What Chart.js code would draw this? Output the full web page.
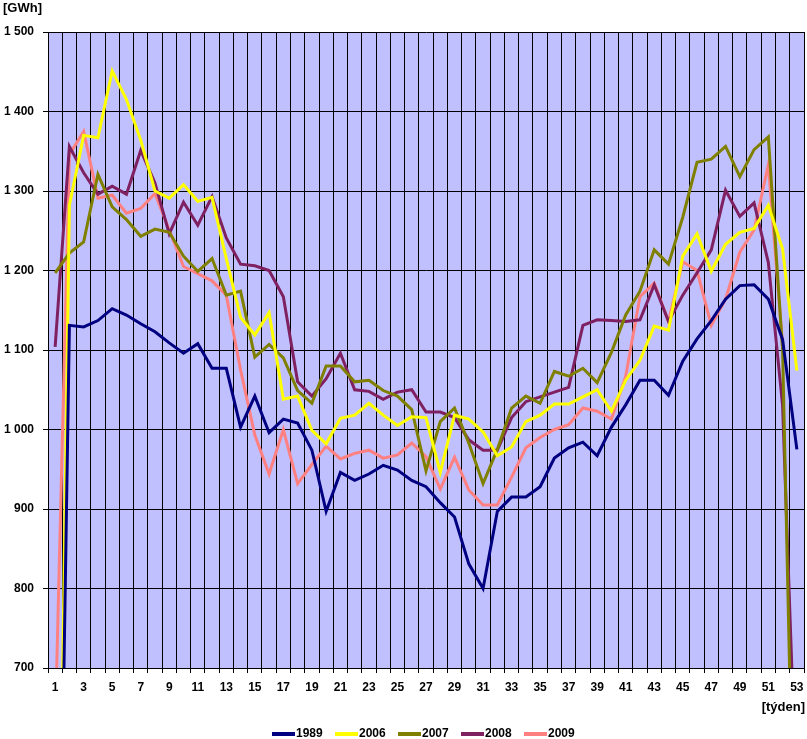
<!DOCTYPE html>
<html>
<head>
<meta charset="utf-8">
<script src="https://cdn.jsdelivr.net/npm/chart.js"></script>
<style>
  body { margin: 0; background: #fff; }
</style>
</head>
<body>
<canvas id="chart" width="807" height="739"></canvas>
<script>
var weeks = ['1','2','3','4','5','6','7','8','9','10','11','12','13','14','15','16','17','18','19','20',
  '21','22','23','24','25','26','27','28','29','30','31','32','33','34','35','36','37','38','39','40',
  '41','42','43','44','45','46','47','48','49','50','51','52','53'];

var yTicks = [700, 800, 900, 1000, 1100, 1200, 1300, 1400, 1500];

var years = ['1989', '2006', '2007', '2008', '2009'];

var v1989 = [0, 1131, 1129, 1137, 1152, 1144, 1133, 1123, 1109, 1096, 1108, 1077, 1077, 1003, 1042, 996, 1013, 1008, 974, 897,
  946, 936, 944, 955, 949, 936, 928, 908, 890, 831, 800, 897, 915, 915, 928, 964, 977, 984, 967, 1003,
  1031, 1062, 1062, 1043, 1086, 1114, 1137, 1164, 1181, 1182, 1164, 1113, 975];

var v2006 = [40, 1282, 1370, 1367, 1451, 1415, 1364, 1300, 1291, 1308, 1287, 1292, 1215, 1141, 1119, 1147, 1038, 1042, 999, 982,
  1014, 1018, 1033, 1018, 1005, 1016, 1015, 946, 1018, 1013, 997, 967, 978, 1010, 1018, 1032, 1032, 1041, 1050, 1023,
  1062, 1087, 1130, 1125, 1218, 1246, 1199, 1233, 1248, 1253, 1282, 1227, 1074];

var v2007 = [1197, 1222, 1236, 1321, 1280, 1264, 1243, 1252, 1248, 1218, 1199, 1215, 1169, 1174, 1091, 1107, 1090, 1049, 1033, 1080,
  1080, 1060, 1062, 1049, 1042, 1025, 948, 1010, 1027, 983, 932, 975, 1027, 1042, 1033, 1073, 1067, 1077, 1059, 1097,
  1144, 1174, 1226, 1208, 1267, 1336, 1340, 1356, 1318, 1352, 1368, 1100, 280];

var v2008 = [1104, 1356, 1323, 1296, 1306, 1296, 1351, 1310, 1246, 1286, 1257, 1293, 1241, 1208, 1206, 1200, 1167, 1060, 1042, 1064,
  1096, 1050, 1048, 1038, 1047, 1050, 1022, 1022, 1015, 987, 974, 974, 1015, 1035, 1041, 1047, 1053, 1131, 1138, 1137,
  1136, 1138, 1182, 1136, 1169, 1197, 1226, 1301, 1268, 1285, 1210, 1030, 520];

var v2009 = [620, 1346, 1375, 1291, 1295, 1272, 1278, 1297, 1251, 1205, 1196, 1187, 1169, 1075, 993, 944, 1000, 932, 956, 979,
  963, 970, 974, 964, 968, 983, 966, 925, 965, 924, 905, 905, 940, 977, 990, 1000, 1006, 1027, 1023, 1013,
  1067, 1167, 1184, 1136, 1211, 1200, 1131, 1164, 1223, 1251, 1333, 1106, null];

var colors = ['#000080', '#FFFF00', '#808000', '#7F2060', '#FF8080'];
var series = [v1989, v2006, v2007, v2008, v2009];

var font = 'bold 12px "Liberation Sans", Arial, sans-serif';

function fmt(v) {
  var s = String(v);
  if (s.length > 3) s = s.slice(0, s.length - 3) + ' ' + s.slice(-3);
  return s;
}

var datasets = [];
for (var i = 0; i < years.length; i++) {
  datasets.push({
    label: years[i],
    data: series[i],
    borderColor: colors[i],
    backgroundColor: colors[i],
    borderWidth: 3,
    pointRadius: 0,
    tension: 0,
    spanGaps: false
  });
}

// plot background + extra texts + legend
var decor = {
  id: 'decor',
  beforeDraw: function(chart) {
    var a = chart.chartArea, ctx = chart.ctx;
    ctx.save();
    ctx.fillStyle = '#C0C0FF';
    ctx.fillRect(a.left, a.top, a.right - a.left, a.bottom - a.top);
    ctx.restore();
  },
  afterDraw: function(chart) {
    var ctx = chart.ctx;
    ctx.save();
    ctx.fillStyle = '#000';
    ctx.font = 'bold 13px "Liberation Sans", Arial, sans-serif';
    ctx.textBaseline = 'middle';
    ctx.textAlign = 'left';
    ctx.fillText('[GWh]', 3, 8);
    ctx.textAlign = 'right';
    ctx.fillText('[týden]', 805, 707);

    ctx.font = font;
    ctx.textAlign = 'left';
    var x = 272;
    for (var i = 0; i < years.length; i++) {
      ctx.strokeStyle = colors[i];
      ctx.lineWidth = 4;
      ctx.beginPath();
      ctx.moveTo(x, 734);
      ctx.lineTo(x + 23, 734);
      ctx.stroke();
      ctx.fillText(years[i], x + 24, 734);
      x += 63;
    }
    ctx.restore();
  }
};

var chart = new Chart(document.getElementById('chart').getContext('2d'), {
  type: 'line',
  data: { labels: weeks, datasets: datasets },
  plugins: [decor],
  options: {
    responsive: false,
    animation: false,
    layout: { padding: { top: 32, right: 3, left: 0, bottom: 0 } },
    plugins: { legend: { display: false }, tooltip: { enabled: false } },
    scales: {
      x: {
        offset: true,
        grid: { offset: true, color: '#000', lineWidth: 1, tickLength: 5, tickColor: '#000' },
        border: { color: '#000', width: 1 },
        ticks: {
          autoSkip: false, maxRotation: 0, minRotation: 0, padding: 7,
          color: '#000', font: { family: '"Liberation Sans", Arial, sans-serif', size: 12, weight: 'bold' },
          callback: function(val, idx) { return idx % 2 === 0 ? weeks[idx] : ''; }
        },
        afterFit: function(s) { s.height = 71; s.paddingLeft = 0; s.paddingRight = 0; }
      },
      y: {
        min: yTicks[0], max: yTicks[yTicks.length - 1],
        afterBuildTicks: function(s) { s.ticks = yTicks.map(function(v) { return { value: v }; }); },
        grid: { color: '#000', lineWidth: 1, tickLength: 5, tickColor: '#000' },
        border: { color: '#000', width: 1 },
        ticks: {
          padding: 9, color: '#000',
          font: { family: '"Liberation Sans", Arial, sans-serif', size: 12, weight: 'bold' },
          callback: function(v) { return fmt(v); }
        },
        afterFit: function(s) { s.width = 48; s.paddingTop = 0; s.paddingBottom = 0; }
      }
    }
  }
});
</script>
</body>
</html>
